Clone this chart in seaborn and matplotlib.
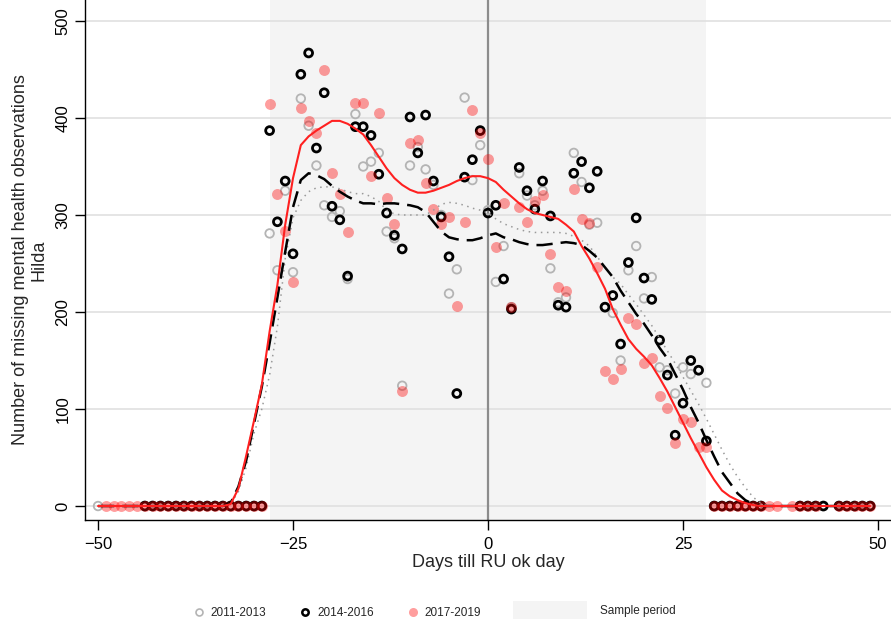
import numpy as np
import pandas as pd
import matplotlib
matplotlib.use("Agg")
import matplotlib.pyplot as plt
import seaborn as sns
from matplotlib.lines import Line2D
from matplotlib.patches import Patch

# daily counts inside the sample window (days -28 .. 28)
window_days = list(range(-28, 29))
counts_2011 = [281, 243, 325, 241, 420, 392, 351, 310, 298, 304, 234, 404, 350, 355, 364, 283,
               276, 124, 351, 370, 347, 331, 300, 219, 244, 421, 336, 372, 305, 231, 268, 205,
               343, 320, 310, 325, 245, 210, 215, 364, 334, 290, 292, 205, 199, 150, 243, 268,
               214, 236, 143, 140, 116, 143, 136, 140, 127]
counts_2014 = [387, 293, 335, 260, 445, 467, 369, 426, 309, 295, 237, 391, 391, 382, 342, 302,
               279, 265, 401, 364, 403, 335, 298, 257, 116, 339, 357, 387, 302, 310, 234, 203,
               349, 325, 306, 335, 299, 207, 205, 343, 355, 328, 345, 205, 217, 167, 251, 297,
               235, 213, 171, 135, 73, 106, 150, 140, 67]
counts_2017 = [414, 322, 284, 231, 410, 397, 384, 449, 343, 322, 282, 415, 415, 340, 405, 318,
               291, 119, 374, 377, 333, 306, 291, 298, 206, 293, 408, 385, 358, 267, 312, 205,
               308, 293, 314, 321, 260, 226, 222, 327, 296, 292, 246, 139, 131, 141, 194, 188,
               147, 153, 113, 101, 65, 90, 87, 61, 61]

# days outside the window that have an observation (all zero)
zero_days_2011 = [-50] + list(range(-44, -28)) + list(range(29, 36)) + [40, 41, 42, 43, 45, 46, 47, 48, 49]
zero_days_2014 = list(range(-44, -28)) + list(range(29, 36)) + [40, 41, 42, 43, 45, 46, 47, 48, 49]
zero_days_2017 = list(range(-49, -28)) + list(range(29, 38)) + [39, 40, 41, 42, 45, 46, 47, 48, 49]

# smoothed fits
fit_days = [-50] + list(range(-36, 37)) + [49]
fit_2011 = [0, 0, 0, 0, 2, 15, 40, 75, 100, 135, 185, 255, 297, 315, 324, 328, 329, 329, 327, 324,
            322, 322, 319, 314, 305, 301, 300, 300, 300, 300, 305, 311, 313, 312, 310, 307, 305,
            302, 296, 291, 288, 285, 283, 282, 282, 282, 282, 281, 278, 274, 268, 257, 246, 236,
            229, 218, 208, 197, 186, 173, 160, 147, 133, 119, 105, 90, 74, 58, 43, 30, 19, 9, 3, 0, 0]
fit_2014 = [0, 0, 0, 0, 3, 20, 47, 85, 123, 168, 215, 262, 308, 336, 343, 341, 337, 330, 324, 319,
            315, 312, 312, 311, 312, 312, 311, 310, 308, 303, 293, 283, 277, 275, 274, 274, 276,
            279, 281, 277, 275, 272, 270, 269, 269, 270, 271, 272, 271, 269, 263, 256, 246, 236,
            222, 210, 198, 188, 176, 163, 152, 136, 120, 102, 86, 68, 51, 35, 24, 13, 6, 2, 0, 0, 0]
fit_2017 = [0, 0, 0, 0, 2, 18, 52, 88, 125, 180, 228, 290, 338, 372, 381, 387, 392, 397, 397, 394,
            389, 383, 372, 360, 348, 338, 331, 326, 323, 323, 325, 328, 331, 335, 338, 340, 340,
            338, 334, 326, 319, 312, 306, 302, 300, 298, 296, 290, 283, 268, 255, 240, 224, 203,
            187, 172, 162, 154, 145, 132, 118, 102, 86, 70, 55, 40, 27, 16, 10, 6, 3, 1, 0, 0, 0]

groups = ["2011-2013", "2014-2016", "2017-2019"]


def build_points():
    rows = []
    for g, vals, zeros in zip(groups, [counts_2011, counts_2014, counts_2017],
                              [zero_days_2011, zero_days_2014, zero_days_2017]):
        for d, v in zip(window_days, vals):
            rows.append((g, d, v))
        for d in zeros:
            rows.append((g, d, 0))
    return pd.DataFrame(rows, columns=["group", "day", "count"])


df = build_points()
fits = pd.DataFrame({"day": fit_days, "2011-2013": fit_2011,
                     "2014-2016": fit_2014, "2017-2019": fit_2017})

sns.set_style("white")
plt.rcParams["font.family"] = ["Liberation Sans", "DejaVu Sans"]

fig = plt.figure(figsize=(8.91, 6.24), dpi=100)
ax = fig.add_axes([85 / 891, 1 - 520 / 624, 1 - 85 / 891, 520 / 624])

ax.axvspan(-28, 28, color="#f4f4f4", lw=0, zorder=0)
for y in range(0, 501, 100):
    ax.axhline(y, color="#dedede", lw=1.1, zorder=0.5)
ax.axvline(0, color="#8c8c8c", lw=1.6, zorder=1)

sub = df[df.group == "2011-2013"]
sns.scatterplot(data=sub, x="day", y="count", ax=ax, s=38, facecolors="none",
                edgecolor="#b4b4b4", linewidth=1.3, zorder=2)
sub = df[df.group == "2014-2016"]
sns.scatterplot(data=sub, x="day", y="count", ax=ax, s=32, facecolors="none",
                edgecolor="black", linewidth=2.0, zorder=3)
sub = df[df.group == "2017-2019"]
sns.scatterplot(data=sub, x="day", y="count", ax=ax, s=62, color="red", alpha=0.38,
                linewidth=0, zorder=4)

sns.lineplot(data=fits, x="day", y="2011-2013", ax=ax, color="#9a9a9a", lw=1.1,
             linestyle=(0, (1, 3)), zorder=5)
sns.lineplot(data=fits, x="day", y="2014-2016", ax=ax, color="black", lw=1.8,
             linestyle=(0, (6.5, 3.2)), zorder=5)
sns.lineplot(data=fits, x="day", y="2017-2019", ax=ax, color="#ff2020", lw=1.5, zorder=5)

ax.set_xlim(-51.67, 51.67)
ax.set_ylim(-14.4, 521.6)
ax.set_xticks([-50, -25, 0, 25, 50])
ax.set_yticks(range(0, 501, 100))
ax.tick_params(axis="both", direction="out", length=7, width=1, labelsize=12,
               color="black", labelcolor="black", bottom=True, left=True)
ax.tick_params(axis="x", pad=5)
plt.setp(ax.get_yticklabels(), rotation=90, va="center")
for side in ["top", "right"]:
    ax.spines[side].set_visible(False)
for side in ["left", "bottom"]:
    ax.spines[side].set_color("black")
    ax.spines[side].set_linewidth(1)
ax.set_xlabel("Days till RU ok day", fontsize=13, labelpad=2)
ax.set_ylabel("Number of missing mental health observations\nHilda", fontsize=13,
              labelpad=6, linespacing=1.1)

handles = [
    Line2D([], [], marker="o", ls="", ms=5, mfc="none", mec="#b4b4b4", mew=1.2),
    Line2D([], [], marker="o", ls="", ms=4.6, mfc="none", mec="black", mew=1.8),
    Line2D([], [], marker="o", ls="", ms=6.5, mfc="red", mec="none", alpha=0.38),
]
fig.legend(handles, groups, loc="center", bbox_to_anchor=(337 / 891, 1 - 613 / 624),
           ncol=3, frameon=False, fontsize=8.5, handlelength=1, handletextpad=0.5,
           columnspacing=2.8)
fig.legend([Patch(facecolor="#f4f4f4", edgecolor="none")], ["Sample period"], loc="center",
           bbox_to_anchor=(594 / 891, 1 - 610 / 624), frameon=False, fontsize=8.5,
           handlelength=6.3, handleheight=2.0, handletextpad=1.1)

fig.savefig("out.png", dpi=100)
